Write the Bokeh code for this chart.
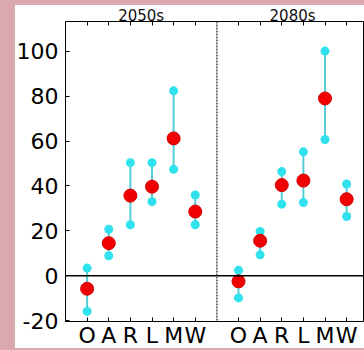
from bokeh.plotting import figure
from bokeh.models import Range1d, FixedTicker, LinearAxis, Span, ColumnDataSource
from bokeh.embed import file_html
from bokeh.resources import INLINE

categories = ["O", "A", "R", "L", "M", "W"]
periods = ["2050s", "2080s"]
mean_2050 = [-5.8, 14.5, 35.7, 39.7, 61.2, 28.6]
upper_2050 = [3.4, 20.7, 50.4, 50.4, 82.4, 36.0]
lower_2050 = [-15.9, 8.9, 22.7, 33.0, 47.4, 22.7]
mean_2080 = [-2.5, 15.6, 40.4, 42.4, 79.0, 34.1]
upper_2080 = [2.4, 19.7, 46.4, 55.2, 100.1, 40.9]
lower_2080 = [-9.9, 9.3, 31.9, 32.6, 60.7, 26.4]
y_ticks = [-20, 0, 20, 40, 60, 80, 100]

FONT = "DejaVu Sans"
PINK = "#d9a9ad"

# pink page with a white panel (CSS behind a transparent border fill)
panel_css = ("linear-gradient(#ffffff, #ffffff) 15px 5px / 349px 343px no-repeat, " + PINK)

p = figure(width=364, height=350, output_backend="svg", toolbar_location=None, title=None,
           x_range=Range1d(0, 13.78), y_range=Range1d(-20.4, 113.3),
           x_axis_location=None, y_axis_location=None,
           min_border_left=65, min_border_top=21, min_border_bottom=28, min_border_right=1,
           background_fill_color="white", border_fill_color=None,
           styles={"background": panel_css})
p.outline_line_color = "black"
p.outline_line_width = 1
p.xgrid.visible = False
p.ygrid.visible = False

offsets = [0, 7]
series = [(mean_2050, upper_2050, lower_2050), (mean_2080, upper_2080, lower_2080)]
tick_pos = []
overrides = {}
title_pos = []
title_over = {}
for off, name, (m, u, l) in zip(offsets, periods, series):
    xs = [off + i + 1 for i in range(len(categories))]
    tick_pos += xs
    for x, c in zip(xs, categories):
        overrides[x] = c
    title_pos.append(off + 3.5)
    title_over[off + 3.5] = name
    src = ColumnDataSource(dict(x=xs, m=m, u=u, l=l))
    p.segment(x0="x", y0="l", x1="x", y1="u", source=src, line_color="#55cdd9", line_width=2)
    p.scatter(x="x", y="u", source=src, size=9, fill_color="#2fe2ee", line_color=None)
    p.scatter(x="x", y="l", source=src, size=9, fill_color="#2fe2ee", line_color=None)
    p.scatter(x="x", y="m", source=src, size=13, fill_color="#f00000", line_color="#d40000", line_width=1)

p.add_layout(Span(location=0, dimension="width", line_color="black", line_width=1.5))
p.add_layout(Span(location=7, dimension="height", line_color="#555555", line_width=1.5, line_dash="2 1"))

xb = LinearAxis(ticker=FixedTicker(ticks=tick_pos), major_label_overrides=overrides)
xb.major_tick_in = 4
xb.major_tick_out = 0
xb.minor_tick_line_color = None
xb.major_label_standoff = 1
xb.major_label_text_font = FONT
xb.major_label_text_font_size = "22px"
xb.major_label_text_color = "black"
xb.axis_line_color = "black"
p.add_layout(xb, "below")

xt = LinearAxis(ticker=FixedTicker(ticks=title_pos, minor_ticks=tick_pos),
                major_label_overrides=title_over)
xt.major_tick_in = 0
xt.major_tick_out = 0
xt.minor_tick_in = 4
xt.minor_tick_out = 0
xt.minor_tick_line_color = "black"
xt.major_label_standoff = -3
xt.major_label_text_font = FONT
xt.major_label_text_font_size = "15px"
xt.major_label_text_color = "#111111"
xt.axis_line_color = "black"
p.add_layout(xt, "above")

yl = LinearAxis(ticker=FixedTicker(ticks=y_ticks),
                major_label_overrides={v: str(v) for v in y_ticks})
yl.major_tick_in = 4
yl.major_tick_out = 0
yl.minor_tick_line_color = None
yl.major_label_standoff = 7
yl.major_label_text_font = FONT
yl.major_label_text_font_size = "22px"
yl.major_label_text_color = "black"
p.add_layout(yl, "left")

open("out.html", "w").write(file_html(p, INLINE))
